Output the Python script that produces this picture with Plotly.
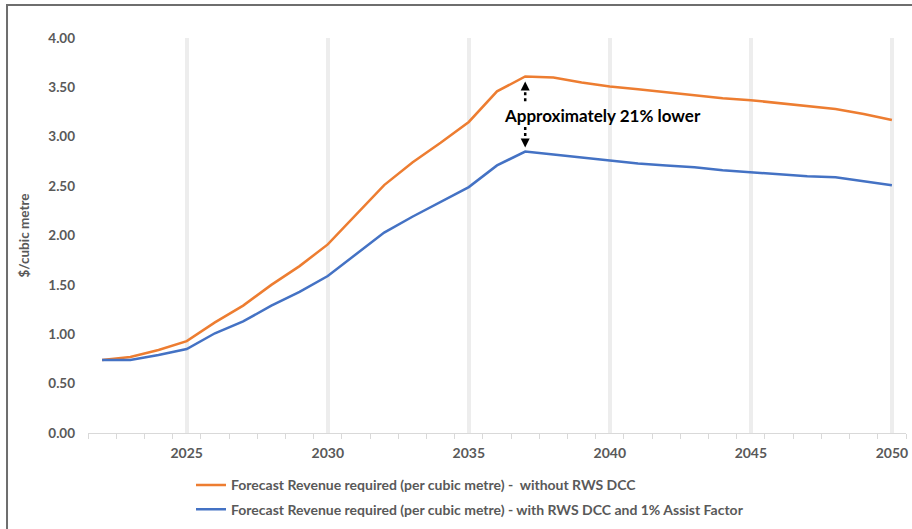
import plotly.graph_objects as go

# Forecast revenue required, $ per cubic metre, by year
years = list(range(2022, 2051))
without_dcc = [0.74, 0.77, 0.84, 0.93, 1.12, 1.29, 1.50, 1.69, 1.91, 2.21,
               2.51, 2.74, 2.94, 3.15, 3.46, 3.61, 3.60, 3.55, 3.51, 3.48,
               3.45, 3.42, 3.39, 3.37, 3.34, 3.31, 3.28, 3.23, 3.17]
with_dcc = [0.74, 0.74, 0.79, 0.85, 1.01, 1.13, 1.29, 1.43, 1.59, 1.81,
            2.03, 2.19, 2.34, 2.49, 2.71, 2.85, 2.82, 2.79, 2.76, 2.73,
            2.71, 2.69, 2.66, 2.64, 2.62, 2.60, 2.59, 2.55, 2.51]
series_names = [
    "Forecast Revenue required (per cubic metre) -  without RWS DCC",
    "Forecast Revenue required (per cubic metre) - with RWS DCC and 1% Assist Factor",
]
x_labels = [2025, 2030, 2035, 2040, 2045, 2050]
y_ticks = [0, 0.5, 1.0, 1.5, 2.0, 2.5, 3.0, 3.5, 4.0]
gap_label = "Approximately 21% lower"

peak_year = years[without_dcc.index(max(without_dcc))]
peak_hi = max(without_dcc)
peak_lo = with_dcc[years.index(peak_year)]

FONT = "Lato, 'Open Sans', sans-serif"
GREY = "#595959"

fig = go.Figure()
fig.add_trace(go.Scatter(x=years, y=without_dcc, mode="lines", name=series_names[0],
                         legendgroup="a",
                         line=dict(color="#ED7D31", width=2.5)))
fig.add_trace(go.Scatter(x=years, y=with_dcc, mode="lines", name=series_names[1],
                         legendgroup="b",
                         line=dict(color="#4472C4", width=2.5)))

# dotted arrows between the two peaks
fig.add_shape(type="line", x0=peak_year, x1=peak_year, y0=3.36, y1=peak_hi - 0.09,
              line=dict(color="black", width=2.5, dash="dot"))
fig.add_shape(type="line", x0=peak_year, x1=peak_year, y0=3.10, y1=peak_lo + 0.09,
              line=dict(color="black", width=2.5, dash="dot"))
fig.add_annotation(x=peak_year, y=peak_hi - 0.05, ax=0, ay=8, text="", showarrow=True,
                   arrowhead=2, arrowsize=1.2, arrowwidth=1.5, arrowcolor="black")
fig.add_annotation(x=peak_year, y=peak_lo + 0.04, ax=0, ay=-8, text="", showarrow=True,
                   arrowhead=2, arrowsize=1.2, arrowwidth=1.5, arrowcolor="black")
fig.add_annotation(x=2039.75, y=3.22, text=gap_label, showarrow=False,
                   font=dict(family=FONT, size=17, color="black", weight="bold"))

# outer frame
fig.add_shape(type="rect", xref="paper", yref="paper",
              x0=-0.099, x1=1.02, y0=-0.3, y1=1.0835,
              line=dict(color="#6e6e6e", width=2), layer="above")

fig.update_layout(
    width=912, height=529,
    margin=dict(l=88, r=6, t=38, b=96, autoexpand=False),
    paper_bgcolor="white", plot_bgcolor="white",
    font=dict(family=FONT, color=GREY),
    showlegend=True,
    legend=dict(orientation="v", x=(191 - 88) / 818, xanchor="left",
                y=-0.092, yanchor="top", tracegroupgap=3,
                font=dict(family=FONT, size=14, color=GREY, weight="bold"),
                bgcolor="rgba(0,0,0,0)"),
)
fig.update_xaxes(
    range=[2021.5, 2050.5], tickvals=x_labels, ticktext=[str(v) for v in x_labels],
    ticks="", showgrid=True, gridcolor="#ededed", gridwidth=4,
    showline=True, linecolor="#d9d9d9", linewidth=1, zeroline=False,
    tickfont=dict(family=FONT, size=14, color=GREY, weight="bold"),
    ticklabelstandoff=7,
    minor=dict(tickvals=[y + 0.5 for y in range(2021, 2051)], ticks="outside",
               ticklen=5, tickcolor="#d9d9d9", showgrid=False),
)
fig.update_yaxes(
    range=[0, 4], tickvals=y_ticks, ticktext=[f"{v:.2f}" for v in y_ticks],
    showgrid=False, zeroline=False, showline=False, ticks="",
    tickfont=dict(family=FONT, size=13.5, color=GREY, weight="bold"),
    ticklabelstandoff=12,
    title=dict(text="$/cubic metre", standoff=15,
               font=dict(family=FONT, size=13.5, color=GREY, weight="bold")),
)

fig.write_html("out.html")
